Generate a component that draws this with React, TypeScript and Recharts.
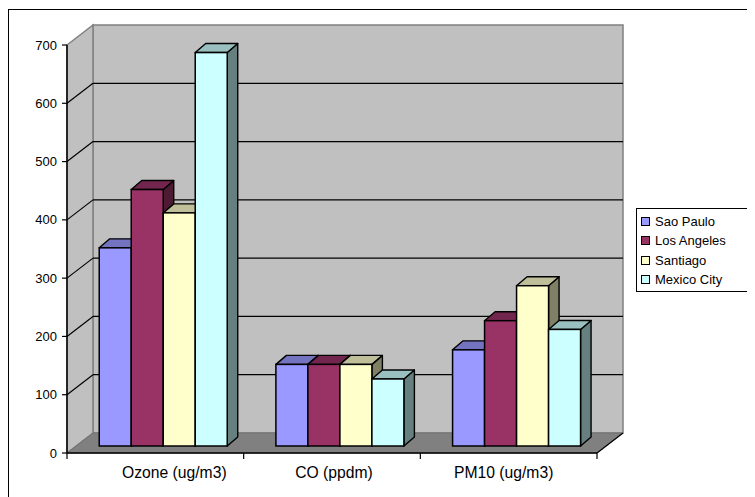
import React from 'react';
import { BarChart, Bar, XAxis, YAxis, CartesianGrid, Legend } from 'recharts';

const categories = ['Ozone (ug/m3)', 'CO (ppdm)', 'PM10 (ug/m3)'];
const saoPaulo = [340, 140, 165];
const losAngeles = [440, 140, 215];
const santiago = [400, 140, 275];
const mexicoCity = [675, 115, 200];
const yTicks = [0, 100, 200, 300, 400, 500, 600, 700];
const seriesNames = ['Sao Paulo', 'Los Angeles', 'Santiago', 'Mexico City'];
const seriesColors = ['#9999FF', '#993366', '#FFFFCC', '#CCFFFF'];
const seriesValues = [saoPaulo, losAngeles, santiago, mexicoCity];

const data = categories.map((c, i) => {
  const row: any = { name: c };
  seriesNames.forEach((s, k) => { row[s] = seriesValues[k][i]; });
  return row;
});

const FONT = 'Arial, "Liberation Sans", sans-serif';
const CHART_W = 746;
const CHART_H = 487;
const PLOT_LEFT = 58;
const PLOT_W = 530;
const AXIS_Y = 443;
const DX = 26; // wall depth
const DY = -20;
const BSX = 7.5; // bar plane shift
const BSY = -7;
const BDX = 10.5; // bar depth
const BDY = -9;
const LABEL_DX = [19, 2, -5];

const shade = (hex: string, f: number) => {
  const n = parseInt(hex.slice(1), 16);
  const r = Math.round(((n >> 16) & 255) * f);
  const g = Math.round(((n >> 8) & 255) * f);
  const b = Math.round((n & 255) * f);
  return `rgb(${r},${g},${b})`;
};

const make3DBar = (color: string) => (props: any) => {
  const { x, y, width, height } = props;
  if (x == null || width == null || height == null) return null;
  const fx = x + BSX;
  const fy = y + BSY;
  const w = width;
  const h = height;
  const top = `${fx},${fy} ${fx + w},${fy} ${fx + w + BDX},${fy + BDY} ${fx + BDX},${fy + BDY}`;
  const side = `${fx + w},${fy} ${fx + w + BDX},${fy + BDY} ${fx + w + BDX},${fy + h + BDY} ${fx + w},${fy + h}`;
  return (
    <g>
      <polygon points={side} fill={shade(color, 0.5)} stroke="#000" strokeWidth={1.4} strokeLinejoin="round" />
      <polygon points={top} fill={shade(color, 0.75)} stroke="#000" strokeWidth={1.4} strokeLinejoin="round" />
      <rect x={fx} y={fy} width={w} height={h} fill={color} stroke="#000" strokeWidth={1.5} />
    </g>
  );
};

const gridLine = (props: any) => {
  const { x, y, width, height, x1, y1, index } = props;
  const bottom = y + height;
  const right = x + width;
  const parts: any[] = [];
  if (index === 0) {
    parts.push(
      <rect key="back" x={x + DX} y={y + DY} width={width} height={height} fill="#C0C0C0" stroke="#808080" strokeWidth={1.5} />,
      <polygon key="left" points={`${x},${y} ${x + DX},${y + DY} ${x + DX},${bottom + DY} ${x},${bottom}`} fill="#C0C0C0" stroke="#808080" strokeWidth={1.5} />,
      <polygon key="floor" points={`${x},${bottom} ${right},${bottom} ${right + DX},${bottom + DY} ${x + DX},${bottom + DY}`} fill="#808080" stroke="#707070" strokeWidth={1} />,
      <line key="fr" x1={right} y1={bottom} x2={right + DX} y2={bottom + DY} stroke="#000" strokeWidth={1.2} />
    );
  }
  const isEdge = Math.abs(y1 - y) < 0.5 || Math.abs(y1 - bottom) < 0.5;
  if (!isEdge) {
    parts.push(
      <line key="h" x1={x1 + DX} y1={y1 + DY} x2={right + DX} y2={y1 + DY} stroke="#000" strokeWidth={1.2} />,
      <line key="d" x1={x1} y1={y1} x2={x1 + DX} y2={y1 + DY} stroke="#000" strokeWidth={1.2} />
    );
  }
  return <g key={`gl-${index}`}>{parts}</g>;
};

const XTick = (props: any) => {
  const { x, payload, index } = props;
  const band = PLOT_W / categories.length;
  const left = x - band / 2;
  return (
    <g>
      <line x1={left} y1={AXIS_Y} x2={left} y2={AXIS_Y + 6} stroke="#000" strokeWidth={1.2} />
      {index === categories.length - 1 && (
        <line x1={x + band / 2} y1={AXIS_Y} x2={x + band / 2} y2={AXIS_Y + 6} stroke="#000" strokeWidth={1.2} />
      )}
      <text x={x + (LABEL_DX[index] || 0)} y={AXIS_Y + 24.5} textAnchor="middle" fontSize={15.7} fontFamily={FONT} fill="#000">
        {payload.value}
      </text>
    </g>
  );
};

const renderLegend = () => (
  <div
    style={{
      border: '1px solid #000',
      background: '#fff',
      width: 116,
      boxSizing: 'border-box',
      padding: '3px 0 2px 0',
      fontFamily: FONT,
      fontSize: 13,
      color: '#000',
    }}
  >
    {seriesNames.map((n, i) => (
      <div key={n} style={{ height: 19.3, display: 'flex', alignItems: 'center', whiteSpace: 'nowrap' }}>
        <span
          style={{
            display: 'inline-block',
            width: 7,
            height: 7,
            border: '1px solid #000',
            background: seriesColors[i],
            marginLeft: 4,
            marginRight: 5,
          }}
        />
        <span>{n}</span>
      </div>
    ))}
  </div>
);

export default function App() {
  return (
    <div style={{ paddingTop: 1 }}>
      <div
        style={{
          width: CHART_W,
          height: CHART_H,
          borderTop: '1px solid #000',
          borderLeft: '1px solid #000',
          background: '#fff',
          position: 'relative',
          overflow: 'hidden',
        }}
      >
        <BarChart
          width={CHART_W}
          height={CHART_H}
          data={data}
          margin={{ top: 35, right: 42, bottom: 0, left: 0 }}
          barCategoryGap="14%"
          barGap={0}
        >
          <CartesianGrid horizontal={gridLine} vertical={false} fill="none" stroke="none" />
          <XAxis
            dataKey="name"
            height={44}
            axisLine={{ stroke: '#000', strokeWidth: 1.5 }}
            tickLine={false}
            tickSize={0}
            tickMargin={0}
            tick={<XTick />}
            interval={0}
          />
          <YAxis
            width={58}
            domain={[0, 700]}
            ticks={yTicks}
            interval={0}
            axisLine={{ stroke: '#000', strokeWidth: 1.5 }}
            tickLine={{ stroke: '#000', strokeWidth: 1.2 }}
            tickSize={5}
            tickMargin={5}
            tick={{ fill: '#000', fontSize: 13, fontFamily: FONT }}
          />
          <Legend
            layout="vertical"
            align="right"
            verticalAlign="middle"
            content={renderLegend}
            wrapperStyle={{ position: 'absolute', left: 627, top: 198, width: 116 }}
          />
          {seriesNames.map((s, i) => (
            <Bar key={s} dataKey={s} fill={seriesColors[i]} isAnimationActive={false} shape={make3DBar(seriesColors[i])} />
          ))}
        </BarChart>
      </div>
    </div>
  );
}
